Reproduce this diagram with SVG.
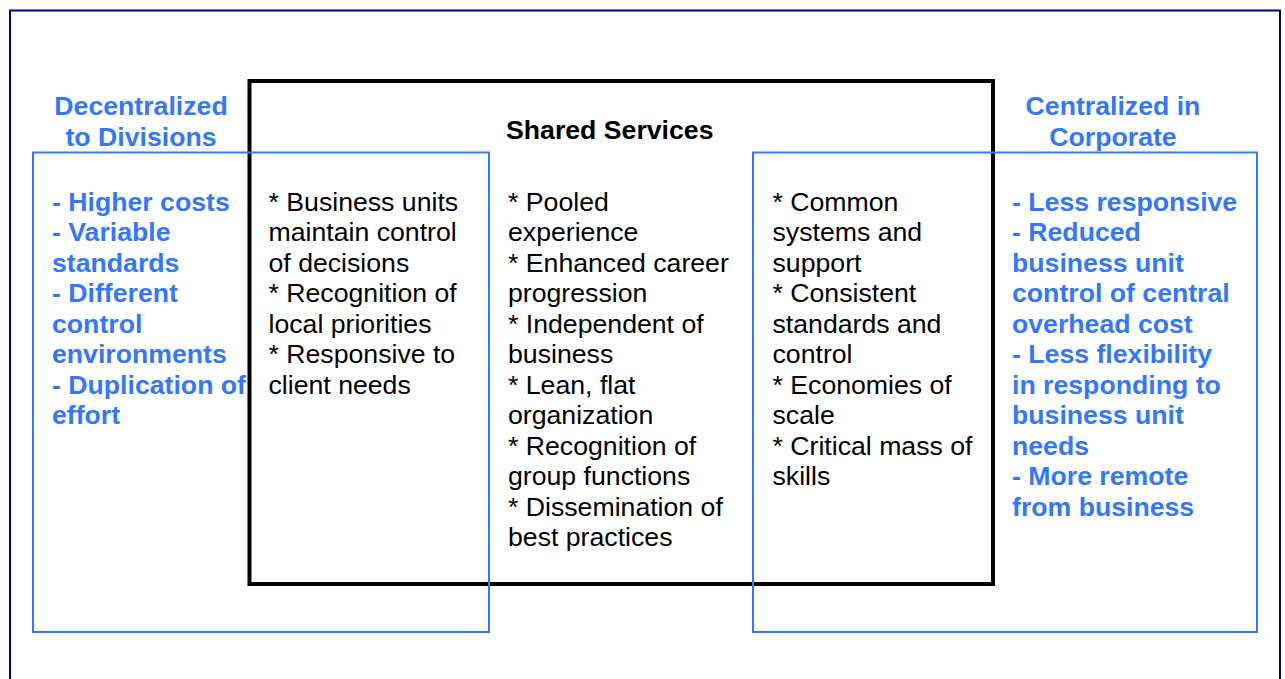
<svg xmlns="http://www.w3.org/2000/svg" width="1285" height="679" viewBox="0 0 1285 679">
<style>
.t{font-family:"Liberation Sans",Arial,sans-serif;font-size:26.67px;fill:#000}
.b{font-family:"Liberation Sans",Arial,sans-serif;font-size:26.67px;font-weight:bold;fill:#3377ff}
.h{font-family:"Liberation Sans",Arial,sans-serif;font-size:26.67px;font-weight:bold;fill:#000}
.blue{fill:none;stroke:#3377ff;stroke-width:2}
</style>
<rect width="1285" height="679" fill="#fff"/>
<rect id="frame" x="10" y="10.5" width="1270" height="690" fill="none" stroke="#000090" stroke-width="2"/>
<g id="shared">
<rect x="249.5" y="81" width="743.5" height="503" fill="none" stroke="#000" stroke-width="4"/>
<text class="h" x="506" y="139">Shared Services</text>
</g>
<g id="decentralized">
<rect class="blue" x="33" y="152.5" width="456" height="479.5"/>
<text class="b" text-anchor="middle" x="141" y="115">Decentralized</text>
<text class="b" text-anchor="middle" x="141" y="146">to Divisions</text>
<text class="b" x="52"><tspan x="52" y="210.5">- Higher costs</tspan><tspan x="52" y="241">- Variable</tspan><tspan x="52" y="271.5">standards</tspan><tspan x="52" y="302">- Different</tspan><tspan x="52" y="332.5">control</tspan><tspan x="52" y="363">environments</tspan><tspan x="52" y="393.5">- Duplication of</tspan><tspan x="52" y="424">effort</tspan></text>
</g>
<g id="centralized">
<rect class="blue" x="753" y="152.5" width="504" height="479.5"/>
<text class="b" text-anchor="middle" x="1113" y="115">Centralized in</text>
<text class="b" text-anchor="middle" x="1113" y="146">Corporate</text>
<text class="b"><tspan x="1012" y="210.5">- Less responsive</tspan><tspan x="1012" y="241">- Reduced</tspan><tspan x="1012" y="271.5">business unit</tspan><tspan x="1012" y="302">control of central</tspan><tspan x="1012" y="332.5">overhead cost</tspan><tspan x="1012" y="363">- Less flexibility</tspan><tspan x="1012" y="393.5">in responding to</tspan><tspan x="1012" y="424">business unit</tspan><tspan x="1012" y="454.5">needs</tspan><tspan x="1012" y="485">- More remote</tspan><tspan x="1012" y="515.5">from business</tspan></text>
</g>
<g id="overlap-left">
<text class="t"><tspan x="268.5" y="210.5">* Business units</tspan><tspan x="268.5" y="241">maintain control</tspan><tspan x="268.5" y="271.5">of decisions</tspan><tspan x="268.5" y="302">* Recognition of</tspan><tspan x="268.5" y="332.5">local priorities</tspan><tspan x="268.5" y="363">* Responsive to</tspan><tspan x="268.5" y="393.5">client needs</tspan></text>
</g>
<g id="center">
<text class="t"><tspan x="508" y="210.5">* Pooled</tspan><tspan x="508" y="241">experience</tspan><tspan x="508" y="271.5">* Enhanced career</tspan><tspan x="508" y="302">progression</tspan><tspan x="508" y="332.5">* Independent of</tspan><tspan x="508" y="363">business</tspan><tspan x="508" y="393.5">* Lean, flat</tspan><tspan x="508" y="424">organization</tspan><tspan x="508" y="454.5">* Recognition of</tspan><tspan x="508" y="485">group functions</tspan><tspan x="508" y="515.5">* Dissemination of</tspan><tspan x="508" y="546">best practices</tspan></text>
</g>
<g id="overlap-right">
<text class="t"><tspan x="772.5" y="210.5">* Common</tspan><tspan x="772.5" y="241">systems and</tspan><tspan x="772.5" y="271.5">support</tspan><tspan x="772.5" y="302">* Consistent</tspan><tspan x="772.5" y="332.5">standards and</tspan><tspan x="772.5" y="363">control</tspan><tspan x="772.5" y="393.5">* Economies of</tspan><tspan x="772.5" y="424">scale</tspan><tspan x="772.5" y="454.5">* Critical mass of</tspan><tspan x="772.5" y="485">skills</tspan></text>
</g>
<g id="connectors"/>
</svg>
